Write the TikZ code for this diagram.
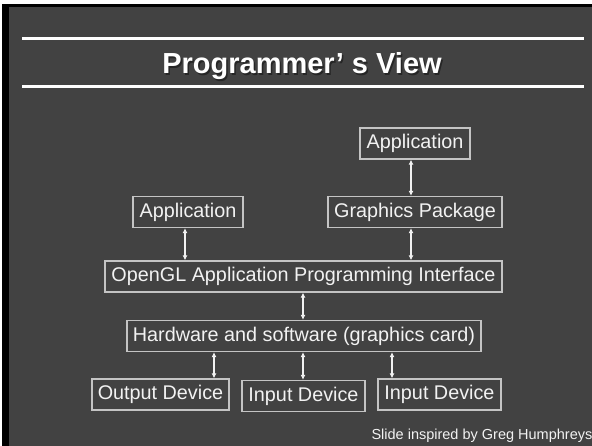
\documentclass[tikz,border=0pt]{standalone}
\usepackage{fontspec}
\setmainfont{Liberation Sans}
\usetikzlibrary{arrows.meta}

\definecolor{slidegray}{HTML}{424242}
\definecolor{edgegray}{HTML}{C4C4C4}
\definecolor{inkwhite}{HTML}{F2F2F2}

\tikzset{
  layer/.style={draw=edgegray, line width=1.3pt, text=inkwhite, minimum height=31pt,
    inner sep=0pt, font=\fontsize{19.8}{22}\selectfont},
  link/.style={inkwhite, line width=1.4pt,
    {Latex[length=5pt,width=5pt]}-{Latex[length=5pt,width=5pt]}},
  headline/.style={font=\fontsize{29}{32}\selectfont\bfseries, anchor=base},
}

\begin{document}
\begin{tikzpicture}[x=1pt,y=-1pt]
	\useasboundingbox (0,0) rectangle (592,446);
	\fill[white] (0,0) rectangle (592,446);
	\fill[black] (2,4) rectangle (592,446);
	\fill[slidegray] (9,7) rectangle (592,446);

	% title bar
	\draw[white, line width=3pt] (22,38.5) -- (584,38.5);
	\draw[white, line width=3pt] (22,86.5) -- (584,86.5);
	\node[headline, text=black!85] at (303.5,75.5) {Programmer’ s View};
	\node[headline, text=white] (title) at (302,74) {Programmer’ s View};

	% layers
	\node[layer, minimum width=110pt] (app2) at (415,143.5) {Application};
	\node[layer, minimum width=110pt] (app1) at (188,212) {Application};
	\node[layer, minimum width=174pt] (gfx) at (415,212) {Graphics Package};
	\node[layer, minimum width=397pt] (api) at (303.5,276.5) {OpenGL Application Programming Interface};
	\node[layer, minimum width=354pt] (hw) at (304,336) {Hardware and software (graphics card)};
	\node[layer, minimum width=137pt] (out) at (160.5,394.5) {Output Device};
	\node[layer, minimum width=123pt] (in1) at (303.5,396) {Input Device};
	\node[layer, minimum width=123pt] (in2) at (439.5,394.5) {Input Device};

	% connectors
	\draw[link] (app2.south -| 411,0) -- (gfx.north -| 411,0);
	\draw[link] (gfx.south -| 411,0) -- (api.north -| 411,0);
	\draw[link] (app1.south -| 185,0) -- (api.north -| 185,0);
	\draw[link] (api.south -| 303,0) -- (hw.north -| 303,0);
	\draw[link] (hw.south -| 214,0) -- (out.north -| 214,0);
	\draw[link] (hw.south -| 303,0) -- (in1.north -| 303,0);
	\draw[link] (hw.south -| 392,0) -- (in2.north -| 392,0);

	\node[anchor=base west, text=inkwhite, font=\fontsize{14.5}{16}\selectfont] (credit) at (368,439) {Slide inspired by Greg Humphreys};
\end{tikzpicture}
\end{document}
